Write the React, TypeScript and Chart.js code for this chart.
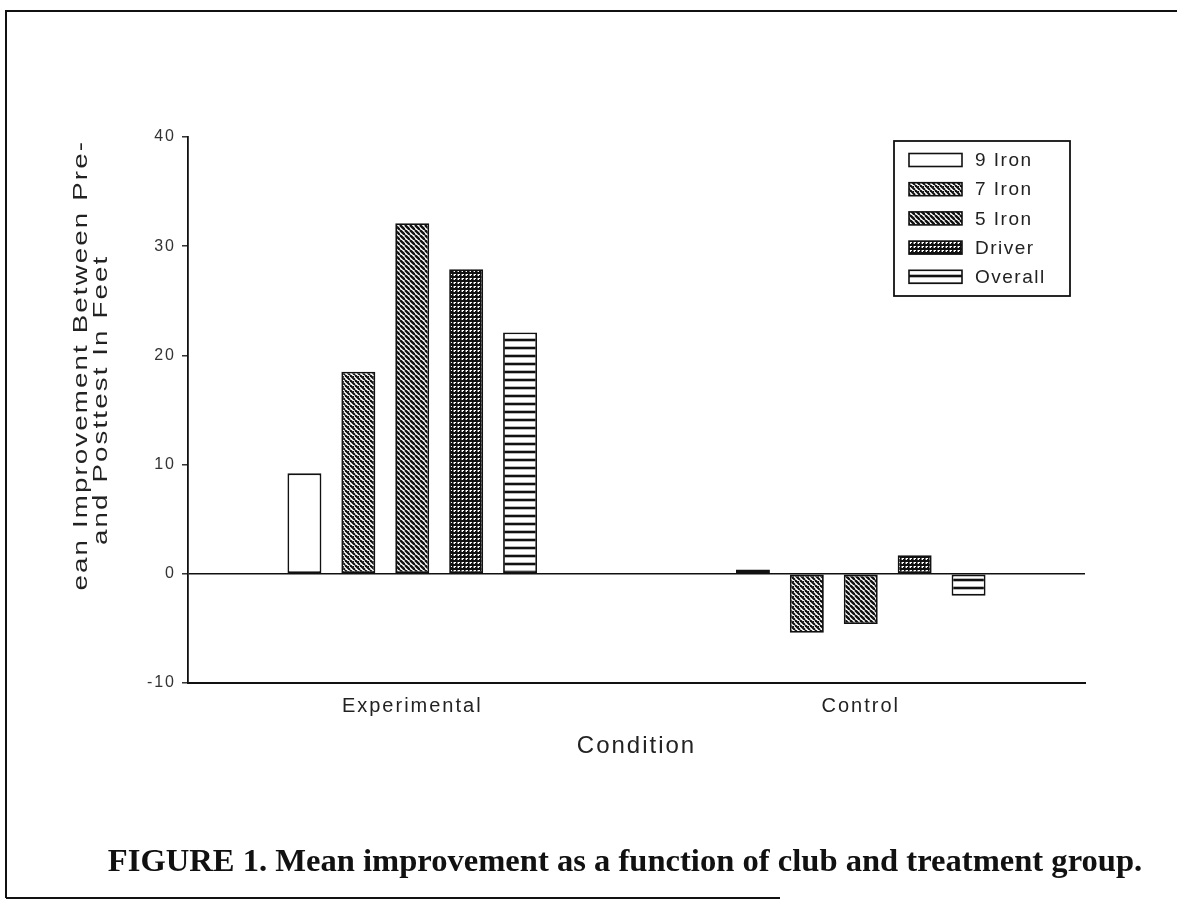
import React, { useEffect, useRef } from 'react';
import { Chart, registerables } from 'chart.js';

Chart.register(...registerables);

const categories = ['Experimental', 'Control'];
const seriesLabels = ['9 Iron', '7 Iron', '5 Iron', 'Driver', 'Overall'];
const nineIron = [9.2, 0.4];
const sevenIron = [18.5, -5.4];
const fiveIron = [32.1, -4.6];
const driver = [27.9, 1.7];
const overall = [22.1, -2.0];
const yTicks = [-10, 0, 10, 20, 30, 40];
const yTitleLines = ['Mean Improvement Between Pre-', 'and Posttest In Feet'];
const xTitle = 'Condition';
const caption = 'FIGURE 1. Mean improvement as a function of club and treatment group.';

const SANS = '"Liberation Sans", Arial, sans-serif';
const SERIF = '"Liberation Serif", "Times New Roman", serif';
const INK = '#111111';

function makePattern(kind: string): any {
  if (kind === 'none') return '#ffffff';
  const s = kind === 'horiz' ? 8 : kind === 'cross' ? 4 : 5;
  const c = document.createElement('canvas');
  c.width = s;
  c.height = s;
  const g = c.getContext('2d') as CanvasRenderingContext2D;
  g.fillStyle = '#ffffff';
  g.fillRect(0, 0, s, s);
  g.strokeStyle = INK;
  g.fillStyle = INK;
  if (kind === 'diagA' || kind === 'diagB') {
    g.lineWidth = kind === 'diagA' ? 2.1 : 2.4;
    for (const o of [-s, 0, s]) {
      g.beginPath();
      g.moveTo(o, 0);
      g.lineTo(o + s, s);
      g.stroke();
    }
    if (kind === 'diagA') g.fillRect(s - 2, 1, 1, 1);
  } else if (kind === 'cross') {
    g.lineWidth = 2;
    g.beginPath();
    g.moveTo(0, 1);
    g.lineTo(s, 1);
    g.stroke();
    g.lineWidth = 1.6;
    g.beginPath();
    g.moveTo(0.8, 0);
    g.lineTo(0.8, s);
    g.stroke();
    g.fillRect(3, 3, 1, 1);
  } else if (kind === 'horiz') {
    g.lineWidth = 2.6;
    g.beginPath();
    g.moveTo(0, 4);
    g.lineTo(s, 4);
    g.stroke();
  }
  return g.createPattern(c, 'repeat');
}

const framePlugin = {
  id: 'frameAndText',
  beforeDraw(chart: any) {
    const ctx = chart.ctx;
    ctx.save();
    ctx.fillStyle = '#ffffff';
    ctx.fillRect(0, 0, chart.width, chart.height);
    ctx.strokeStyle = INK;
    ctx.lineWidth = 2;
    ctx.beginPath();
    ctx.moveTo(5, 11);
    ctx.lineTo(1177, 11);
    ctx.moveTo(6, 11);
    ctx.lineTo(6, 898);
    ctx.moveTo(6, 898);
    ctx.lineTo(780, 898);
    ctx.stroke();
    ctx.restore();
    ctx.letterSpacing = '2px';
  },
  afterDraw(chart: any) {
    const ctx = chart.ctx;
    // caption
    ctx.save();
    ctx.letterSpacing = '0px';
    ctx.fillStyle = INK;
    ctx.font = 'bold 32.6px ' + SERIF;
    ctx.textAlign = 'center';
    ctx.textBaseline = 'alphabetic';
    ctx.fillText(caption, 625, 871);
    ctx.restore();

    // y axis title (two lines, the first one clipped at the bottom as in the source)
    ctx.save();
    ctx.fillStyle = '#222';
    ctx.font = '21px ' + SANS;
    ctx.letterSpacing = '1.6px';
    ctx.textBaseline = 'middle';
    ctx.save();
    ctx.beginPath();
    ctx.rect(0, 0, 140, 590);
    ctx.clip();
    ctx.translate(81, 140);
    ctx.rotate(-Math.PI / 2);
    ctx.scale(1.32, 1);
    ctx.textAlign = 'right';
    ctx.fillText(yTitleLines[0], 0, 0);
    ctx.restore();
    ctx.save();
    ctx.translate(101, 545);
    ctx.rotate(-Math.PI / 2);
    ctx.scale(1.32, 1);
    ctx.textAlign = 'left';
    ctx.fillText(yTitleLines[1], 0, 0);
    ctx.restore();
    ctx.restore();

    // legend
    ctx.save();
    ctx.strokeStyle = INK;
    ctx.lineWidth = 1.8;
    ctx.strokeRect(894, 141, 176, 155);
    ctx.font = '19px ' + SANS;
    ctx.letterSpacing = '1.5px';
    ctx.textBaseline = 'middle';
    ctx.textAlign = 'left';
    chart.data.datasets.forEach((ds: any, i: number) => {
      const cy = 160 + i * 29.2;
      ctx.fillStyle = ds.backgroundColor;
      ctx.fillRect(909, cy - 6.5, 53, 13);
      ctx.lineWidth = 1.6;
      ctx.strokeStyle = INK;
      ctx.strokeRect(909, cy - 6.5, 53, 13);
      ctx.fillStyle = '#222';
      ctx.fillText(ds.label, 975, cy + 1);
    });
    ctx.restore();
  },
};

export default function App() {
  const ref = useRef<HTMLCanvasElement>(null);
  useEffect(() => {
    document.body.style.margin = '0';
    const canvas = ref.current as HTMLCanvasElement;
    const fills = [
      makePattern('none'),
      makePattern('diagA'),
      makePattern('diagB'),
      makePattern('cross'),
      makePattern('horiz'),
    ];
    const values = [nineIron, sevenIron, fiveIron, driver, overall];
    const chart = new Chart(canvas, {
      type: 'bar',
      data: {
        labels: categories,
        datasets: seriesLabels.map((label, i) => ({
          label,
          data: values[i],
          backgroundColor: fills[i],
          borderColor: INK,
          borderWidth: 1.8,
          borderSkipped: false,
          categoryPercentage: 0.601,
          barPercentage: 0.63,
        })),
      },
      options: {
        responsive: false,
        animation: false,
        devicePixelRatio: 1,
        layout: { padding: { left: 128, right: 92, top: 137, bottom: 140 } },
        plugins: {
          legend: { display: false },
          tooltip: { enabled: false },
          title: { display: false },
        },
        scales: {
          x: {
            afterFit: (s: any) => {
              s.height = 78;
            },
            grid: { display: false, drawTicks: false },
            border: { display: true, color: INK, width: 2 },
            ticks: { font: { family: SANS, size: 20 }, color: '#222', padding: 11 },
            title: {
              display: true,
              text: xTitle,
              font: { family: SANS, size: 24 },
              color: '#222',
              padding: { top: 0, bottom: 0 },
            },
          },
          y: {
            min: -10,
            max: 40,
            afterFit: (s: any) => {
              s.width = 60;
            },
            afterBuildTicks: (s: any) => {
              s.ticks = yTicks.map((v) => ({ value: v }));
            },
            ticks: { font: { family: SANS, size: 16 }, color: '#333', padding: 6 },
            grid: {
              color: (c: any) => (c.tick && c.tick.value === 0 ? INK : 'rgba(0,0,0,0)'),
              lineWidth: 1.6,
              drawTicks: true,
              tickLength: 6,
              tickColor: INK,
              tickWidth: 1.3,
            },
            border: { display: true, color: INK, width: 1.8 },
          },
        },
      },
      plugins: [framePlugin],
    } as any);
    return () => chart.destroy();
  }, []);
  return (
    <div style={{ width: 1177, height: 901, position: 'relative' }}>
      <canvas ref={ref} width={1177} height={901} style={{ display: 'block', width: 1177, height: 901 }} />
    </div>
  );
}
